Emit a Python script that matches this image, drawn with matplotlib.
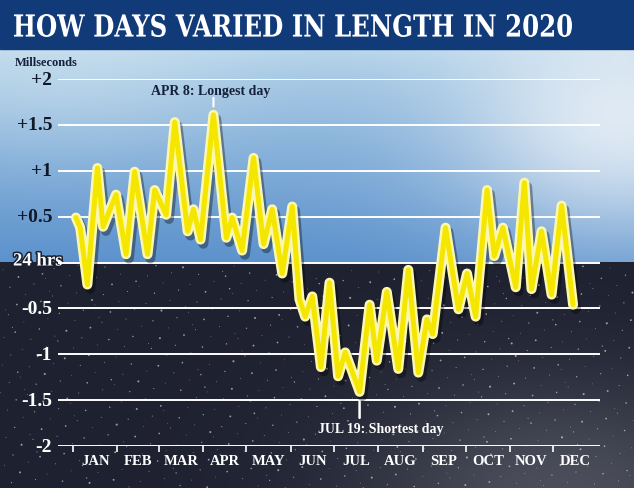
import numpy as np
import pandas as pd
import matplotlib
matplotlib.use("Agg")
import matplotlib.pyplot as plt
import matplotlib.patheffects as pe
import matplotlib.transforms as mtransforms
from matplotlib.patches import Rectangle, PathPatch
from matplotlib.textpath import TextPath
from matplotlib.font_manager import FontProperties

# ---------------- data ----------------
dates = ["2020-01-03", "2020-01-06", "2020-01-11", "2020-01-18", "2020-01-22",
         "2020-01-31", "2020-02-07", "2020-02-13", "2020-02-22", "2020-02-27",
         "2020-03-06", "2020-03-12", "2020-03-21", "2020-03-25", "2020-03-30",
         "2020-04-08", "2020-04-17", "2020-04-21", "2020-04-28", "2020-05-06",
         "2020-05-13", "2020-05-19", "2020-05-26", "2020-06-02", "2020-06-07",
         "2020-06-11", "2020-06-16", "2020-06-22", "2020-06-28", "2020-07-04",
         "2020-07-09", "2020-07-19", "2020-07-26", "2020-07-31", "2020-08-07",
         "2020-08-15", "2020-08-22", "2020-08-29", "2020-09-04", "2020-09-08",
         "2020-09-17", "2020-09-26", "2020-10-02", "2020-10-08", "2020-10-16",
         "2020-10-21", "2020-10-27", "2020-11-05", "2020-11-11", "2020-11-16",
         "2020-11-23", "2020-11-30", "2020-12-07", "2020-12-15"]
values = [0.49, 0.38, -0.24, 1.03, 0.39,
          0.74, 0.09, 0.99, 0.09, 0.79,
          0.52, 1.53, 0.34, 0.58, 0.25,
          1.61, 0.27, 0.49, 0.13, 1.14,
          0.20, 0.58, -0.12, 0.61, -0.40,
          -0.59, -0.37, -1.14, -0.22, -1.24,
          -0.98, -1.41, -0.46, -1.07, -0.32,
          -1.16, -0.08, -1.20, -0.62, -0.78,
          0.38, -0.51, -0.12, -0.59, 0.79,
          0.07, 0.38, -0.27, 0.87, -0.29,
          0.34, -0.35, 0.62, -0.46]

ytick_values = [2, 1.5, 1, 0.5, 0, -0.5, -1, -1.5, -2]
ytick_labels = ["+2", "+1.5", "+1", "+0.5", "24 hrs", "-0.5", "-1", "-1.5", "-2"]
month_labels = ["JAN", "FEB", "MAR", "APR", "MAY", "JUN",
                "JUL", "AUG", "SEP", "OCT", "NOV", "DEC"]
title = "HOW DAYS VARIED IN LENGTH IN 2020"
unit_label = "Millseconds"
longest_date, longest_text = "2020-04-08", "APR 8: Longest day"
shortest_date, shortest_text = "2020-07-19", "JUL 19: Shortest day"

# ---------------- figure ----------------
W, H = 634, 489
DPI = 100
fig = plt.figure(figsize=(W / DPI, H / DPI), dpi=DPI)
SERIF = ["Liberation Serif", "DejaVu Serif"]

# background: sky above the 24 hrs line, night below
Y0 = 263          # pixel row of the 24hrs line
TOP = 50          # bottom of the title bar
bg = fig.add_axes([0, 0, 1, 1])
bg.set_axis_off()
bg.set_xlim(0, W)
bg.set_ylim(H, 0)

yy, xx = np.mgrid[0:H, 0:W].astype(float)
t = np.clip((yy - TOP) / (Y0 - TOP), 0, 1)[..., None]
sky_top = np.array([0.72, 0.84, 0.92])
sky_bot = np.array([0.36, 0.57, 0.80])
sky = sky_top * (1 - t ** 0.7) + sky_bot * t ** 0.7
cloud = np.exp(-(((xx - 620) / 170) ** 2 + ((yy - 120) / 120) ** 2))[..., None]
sky = sky * (1 - 0.85 * cloud) + np.array([0.93, 0.95, 0.97]) * 0.85 * cloud
haze = np.exp(-(((xx - 60) / 200) ** 2 + ((yy - 60) / 100) ** 2))[..., None]
sky = sky * (1 - 0.45 * haze) + np.array([0.86, 0.92, 0.95]) * 0.45 * haze

night = np.ones_like(sky) * np.array([0.12, 0.13, 0.19])
glow = np.exp(-(((xx - 560) / 200) ** 2 + ((yy - 500) / 120) ** 2))[..., None]
night = night * (1 - 0.6 * glow) + np.array([0.42, 0.43, 0.47]) * 0.6 * glow
img = np.where((yy >= Y0)[..., None], night, sky)
bg.imshow(img, extent=(0, W, H, 0), aspect="auto", interpolation="bilinear")

# stars (deterministic low-discrepancy texture)
n = np.arange(1, 700)
sx = (n * 0.7548776662) % 1 * W
sy = Y0 + 3 + (n * 0.5698402910) % 1 * (H - Y0 - 3)
ss = 0.3 + 2.0 * ((n * 0.381966) % 1) ** 3
bg.scatter(sx, sy, s=ss, c="white", alpha=0.55, linewidths=0)

# title bar with a condensed heavy serif title
bg.add_patch(Rectangle((0, 0), W, TOP, color="#113a79", zorder=2))
tp = TextPath((0, 0), title, size=100,
              prop=FontProperties(family="DejaVu Serif", weight="bold"))
ext = tp.get_extents()
tr = (mtransforms.Affine2D().translate(-ext.x0, -ext.y0)
      .scale(558 / ext.width, -23 / ext.height).translate(14, 38))
bg.add_patch(PathPatch(tr.transform_path(tp), fc="white", ec="none", zorder=3))

bg.text(15, 63, unit_label, color="#15203a", fontsize=9, fontweight="bold",
        family=SERIF, va="center", ha="left")

# ---------------- main axes ----------------
L, R, B, T = 58, 600, 447, 80
ax = fig.add_axes([L / W, 1 - B / H, (R - L) / W, (B - T) / H])
ax.patch.set_alpha(0)
for s in ax.spines.values():
    s.set_visible(False)

x = pd.to_datetime(dates)
jan1 = pd.Timestamp("2020-01-01")
ax.set_xlim(jan1 - pd.Timedelta(days=10.5), jan1 + pd.Timedelta(days=367.8))
ax.set_ylim(-2, 2)

for v in ytick_values:
    ax.axhline(v, color="white", lw=1.4, zorder=1)

ytrans = mtransforms.blended_transform_factory(ax.transAxes, ax.transData)
for v, lab in zip(ytick_values, ytick_labels):
    if v == 0:
        bg.text(13, Y0 - 1, lab, color="white", fontsize=13.5, fontweight="bold",
                family=SERIF, va="center", ha="left",
                path_effects=[pe.withStroke(linewidth=2.2, foreground="#1a1f2e")])
    else:
        col = "#111827" if v > 0 else "white"
        ax.text(-0.011, v, lab, transform=ytrans, color=col, fontsize=14,
                fontweight="bold", family=SERIF, va="center", ha="right")

month_starts = pd.date_range("2020-01-01", periods=12, freq="MS")
month_ends = pd.date_range("2020-02-01", periods=12, freq="MS")
month_mid = month_starts + (month_ends - month_starts) / 2
ax.set_xticks(month_starts)
ax.set_xticklabels([])
ax.set_xticks(month_mid, minor=True)
ax.set_xticklabels(month_labels, minor=True)
ax.tick_params(axis="x", which="major", direction="out", length=4, width=1.2,
               color="white")
ax.tick_params(axis="x", which="minor", length=0, pad=6, labelcolor="white",
               labelsize=10.5)
for lab in ax.get_xticklabels(minor=True):
    lab.set_fontweight("bold")
    lab.set_family(SERIF)
ax.set_yticks([])

# the line
ax.plot(x, values, color="#fbf7ae", lw=7.2, solid_joinstyle="round",
        solid_capstyle="round", zorder=3,
        path_effects=[pe.SimpleLineShadow(offset=(2, -3), shadow_color="black",
                                          alpha=0.35), pe.Normal()])
ax.plot(x, values, color="#f5e600", lw=3.6, solid_joinstyle="round",
        solid_capstyle="round", zorder=4)

# annotations
ld = pd.Timestamp(longest_date)
lv = values[dates.index(longest_date)]
ax.annotate(longest_text, xy=(ld, lv), xytext=(-3, 24), textcoords="offset pixels",
            ha="center", va="center", color="#15203a", fontsize=10,
            fontweight="bold", family=SERIF)
ax.annotate("", xy=(ld, lv), xytext=(0, 17), textcoords="offset pixels",
            arrowprops=dict(arrowstyle="-", color="white", lw=1.5,
                            shrinkA=0, shrinkB=6))

sd = pd.Timestamp(shortest_date)
sv = values[dates.index(shortest_date)]
ax.annotate(shortest_text, xy=(sd, sv), xytext=(21, -37), textcoords="offset pixels",
            ha="center", va="center", color="white", fontsize=10,
            fontweight="bold", family=SERIF)
ax.annotate("", xy=(sd, sv), xytext=(0, -26), textcoords="offset pixels",
            arrowprops=dict(arrowstyle="-", color="white", lw=1.8,
                            shrinkA=0, shrinkB=7))

fig.savefig("out.png", dpi=DPI)
